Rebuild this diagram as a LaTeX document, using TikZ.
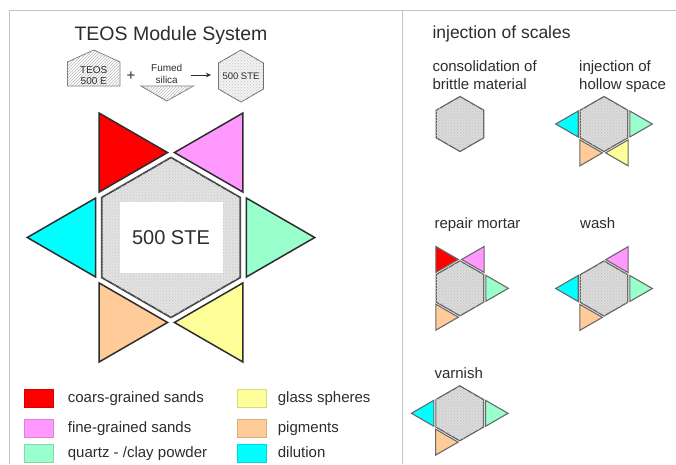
\documentclass[tikz,border=0pt]{standalone}
\usepackage{fontspec}
\setmainfont{Liberation Sans}
\usetikzlibrary{patterns,arrows.meta}
\definecolor{cRed}{RGB}{255,0,0}
\definecolor{cPink}{RGB}{255,153,255}
\definecolor{cMint}{RGB}{153,255,204}
\definecolor{cYellow}{RGB}{255,255,153}
\definecolor{cPeach}{RGB}{255,204,153}
\definecolor{cCyan}{RGB}{0,255,255}
\definecolor{txt}{RGB}{45,45,45}
\definecolor{framec}{RGB}{195,195,195}
\newcommand\fsz[2]{\fontsize{#1}{#2}\selectfont}
% triangle: cx cy angle dist side color style
\newcommand\tri[7]{%
\begin{scope}[shift={(#1,#2)},rotate=#3]
\draw[#7,fill=#6] (#4,{-#5/2}) -- (#4,{#5/2}) -- ({#4+0.866*#5},0) -- cycle;
\end{scope}}
% hexagon: cx cy R style
\newcommand\hexa[4]{%
\begin{scope}[shift={(#1,#2)}]
\draw[#4] (30:#3) -- (90:#3) -- (150:#3) -- (210:#3) -- (270:#3) -- (330:#3) -- cycle;
\end{scope}}
\tikzset{
  lbl/.style={inner sep=0pt,text=txt},
  bigtri/.style={draw={rgb,255:red,45;green,45;blue,45},line width=1.5pt,line join=miter},
  bighex/.style={draw={rgb,255:red,70;green,70;blue,70},line width=1.7pt,fill=gray!22,
     postaction={pattern=crosshatch dots,pattern color=gray!45}},
  smtri/.style={draw={rgb,255:red,105;green,105;blue,105},line width=1.1pt},
  smhex/.style={draw={rgb,255:red,95;green,95;blue,95},line width=1.2pt,fill=gray!28,
     postaction={pattern=crosshatch dots,pattern color=gray!50}},
  hatch/.style={draw={rgb,255:red,120;green,120;blue,120},line width=0.8pt,fill=white,
     postaction={pattern=north east lines,pattern color=gray!55}},
  dothex/.style={draw={rgb,255:red,110;green,110;blue,110},line width=0.8pt,fill=gray!10,
     postaction={pattern=crosshatch dots,pattern color=gray!45}},
  sq/.style={minimum width=29pt,minimum height=17.5pt,inner sep=0pt,draw=#1!85!black,line width=0.4pt,fill=#1},
  framel/.style={draw=framec,line width=1pt},
}
\begin{document}
\begin{tikzpicture}[x=1pt,y=-1pt]
\useasboundingbox[fill=white] (0,0) rectangle (676,464);
% frame
\draw[framel] (9.5,464) -- (9.5,10) -- (676,10);
\draw[framel] (402.7,10) -- (402.7,464);

% title
\node[lbl,anchor=base] (title) at (171,40) {\fsz{19.5}{23}TEOS Module System};

% formula
\draw[hatch] (67.5,86) -- (67.5,62) -- (93.8,50) -- (120,62) -- (120,86) -- cycle;
\node[lbl] (teos) at (93.8,70.5) {\fsz{10}{12}TEOS};
\node[lbl] (teosb) at (93.8,81.5) {\fsz{10}{12}500 E};
\node[lbl] (plus) at (131,76) {\fsz{15}{18}+};
\node[lbl] (fumed) at (166.7,68.3) {\fsz{10}{12}Fumed};
\node[lbl] (silica) at (166.7,80) {\fsz{10}{12}silica};
\draw[hatch] (141,86) -- (193.3,86) -- (166.7,101) -- cycle;
\coordinate (arrS) at (191,75);
\coordinate (arrE) at (211,75);
\draw[draw=txt,line width=0.8pt,-{Stealth[length=5pt,width=4.5pt]}] (arrS) -- (arrE);
\hexa{241}{76}{26}{dothex}
\node[lbl] (steS) at (241,76) {\fsz{9.5}{11}500 STE};

% big star
\tri{171}{237.5}{120}{75.3}{79}{cRed}{bigtri}
\tri{171}{237.5}{60}{75.3}{79}{cPink}{bigtri}
\tri{171}{237.5}{0}{75.3}{79}{cMint}{bigtri}
\tri{171}{237.5}{300}{75.3}{79}{cYellow}{bigtri}
\tri{171}{237.5}{240}{75.3}{79}{cPeach}{bigtri}
\tri{171}{237.5}{180}{75.3}{79}{cCyan}{bigtri}
\hexa{171}{237.5}{80}{bighex}
\fill[white] (120,201.7) rectangle (222.7,273.3);
\node[lbl] (steB) at (171,237.5) {\fsz{20}{24}500 STE};

% legend
\node[sq=cRed] (lg1) at (38.8,398) {};
\node[sq=cPink] (lg2) at (38.8,428) {};
\node[sq=cMint] (lg3) at (38.8,453) {};
\node[sq=cYellow] (lg4) at (252,398) {};
\node[sq=cPeach] (lg5) at (252,428) {};
\node[sq=cCyan] (lg6) at (252,453) {};
\node[lbl,anchor=base west] (lt1) at (67.7,402.5) {\fsz{15}{18}coars-grained sands};
\node[lbl,anchor=base west] (lt2) at (67.7,432.5) {\fsz{15}{18}fine-grained sands};
\node[lbl,anchor=base west] (lt3) at (67.7,457.5) {\fsz{15}{18}quartz - /clay powder};
\node[lbl,anchor=base west] (lt4) at (277.7,402.5) {\fsz{15}{18}glass spheres};
\node[lbl,anchor=base west] (lt5) at (277.7,432.5) {\fsz{15}{18}pigments};
\node[lbl,anchor=base west] (lt6) at (277.7,457.5) {\fsz{15}{18}dilution};

% right panel
\node[lbl,anchor=base west] (rtitle) at (432.3,38.5) {\fsz{17.5}{21}injection of scales};
\node[lbl,anchor=base west] (c1) at (432.3,71.7) {\fsz{15}{18}consolidation of};
\node[lbl,anchor=base west] (c2) at (432.3,89) {\fsz{15}{18}brittle material};
\node[lbl,anchor=base west] (h1) at (579,71.7) {\fsz{15}{18}injection of};
\node[lbl,anchor=base west] (h2) at (579,89) {\fsz{15}{18}hollow space};
\node[lbl,anchor=base west] (rm) at (434.3,228.3) {\fsz{15}{18}repair mortar};
\node[lbl,anchor=base west] (wa) at (580,228.3) {\fsz{15}{18}wash};
\node[lbl,anchor=base west] (va) at (434.3,378.3) {\fsz{15}{18}varnish};

% consolidation
\hexa{460}{124}{27.5}{smhex}
% hollow space
\tri{604}{124}{180}{25.8}{26}{cCyan}{smtri}
\tri{604}{124}{0}{25.8}{26}{cMint}{smtri}
\tri{604}{124}{240}{25.8}{26}{cPeach}{smtri}
\tri{604}{124}{300}{25.8}{26}{cYellow}{smtri}
\hexa{604}{124}{27.5}{smhex}
% repair mortar
\tri{460}{288.3}{120}{25.8}{26}{cRed}{smtri}
\tri{460}{288.3}{60}{25.8}{26}{cPink}{smtri}
\tri{460}{288.3}{0}{25.8}{26}{cMint}{smtri}
\tri{460}{288.3}{240}{25.8}{26}{cPeach}{smtri}
\hexa{460}{288.3}{27.5}{smhex}
% wash
\tri{604}{288.5}{60}{25.8}{26}{cPink}{smtri}
\tri{604}{288.5}{0}{25.8}{26}{cMint}{smtri}
\tri{604}{288.5}{180}{25.8}{26}{cCyan}{smtri}
\tri{604}{288.5}{240}{25.8}{26}{cPeach}{smtri}
\hexa{604}{288.5}{27.5}{smhex}
% varnish
\tri{459.7}{413.3}{180}{25.8}{26}{cCyan}{smtri}
\tri{459.7}{413.3}{0}{25.8}{26}{cMint}{smtri}
\tri{459.7}{413.3}{240}{25.8}{26}{cPeach}{smtri}
\hexa{459.7}{413.3}{27.5}{smhex}
\end{tikzpicture}
\end{document}
